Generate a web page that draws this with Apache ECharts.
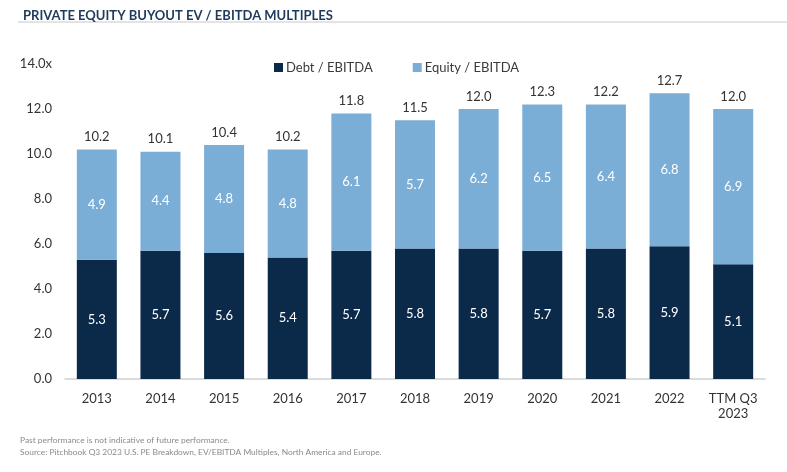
<!DOCTYPE html>
<html>
<head>
<meta charset="utf-8">
<script src="https://cdn.jsdelivr.net/npm/echarts@6/dist/echarts.min.js"></script>
<style>
  html, body { margin: 0; padding: 0; background: #fff; }
  #chart { width: 787px; height: 472px; }
</style>
</head>
<body>
<div id="chart"></div>
<script>
var years = ['2013', '2014', '2015', '2016', '2017', '2018', '2019', '2020', '2021', '2022', 'TTM Q3\n2023'];
var debt = [5.3, 5.7, 5.6, 5.4, 5.7, 5.8, 5.8, 5.7, 5.8, 5.9, 5.1];
var equity = [4.9, 4.4, 4.8, 4.8, 6.1, 5.7, 6.2, 6.5, 6.4, 6.8, 6.9];
var totals = [10.2, 10.1, 10.4, 10.2, 11.8, 11.5, 12.0, 12.3, 12.2, 12.7, 12.0];

var font = 'Lato';
var navy = '#0b2a4a';
var sky = '#7aaed6';

var option = {
  animation: false,
  textStyle: { fontFamily: font },
  title: {
    text: 'PRIVATE EQUITY BUYOUT EV / EBITDA MULTIPLES',
    left: 18,
    top: 4,
    textStyle: { fontSize: 13, fontWeight: 'bold', color: '#1e3a5c', fontFamily: font }
  },
  graphic: [
    { type: 'line', shape: { x1: 18, y1: 22, x2: 787, y2: 22 }, style: { stroke: '#c8c8c8', lineWidth: 1 } },
    { type: 'text', left: 20, top: 436, style: { text: 'Past performance is not indicative of future performance.', fontSize: 8.4, fill: '#8a8a8a', fontFamily: font } },
    { type: 'text', left: 20, top: 448, style: { text: 'Source: Pitchbook Q3 2023 U.S. PE Breakdown, EV/EBITDA Multiples, North America and Europe.', fontSize: 8.4, fill: '#8a8a8a', fontFamily: font } }
  ],
  legend: {
    top: 56,
    left: 269,
    itemWidth: 9,
    itemHeight: 9,
    itemGap: 40,
    icon: 'rect',
    textStyle: { fontSize: 13, color: '#3a3a3a', fontFamily: font, padding: [0, 0, 0, -2] },
    data: ['Debt / EBITDA', 'Equity / EBITDA']
  },
  grid: { left: 65, right: 22, top: 64, bottom: 93 },
  xAxis: {
    type: 'category',
    data: years,
    axisLine: { lineStyle: { color: '#cfcfcf', width: 1.5 } },
    axisTick: { show: false },
    axisLabel: { fontSize: 13, color: '#333', margin: 12, lineHeight: 15 }
  },
  yAxis: {
    type: 'value',
    min: 0,
    max: 14,
    interval: 2,
    splitLine: { show: false },
    axisLine: { show: false },
    axisTick: { show: false },
    axisLabel: {
      fontSize: 13,
      color: '#333',
      margin: 13,
      formatter: function (v) { return v === 14 ? '14.0x' : v.toFixed(1); }
    }
  },
  series: [
    {
      name: 'Debt / EBITDA',
      type: 'bar',
      stack: 'ev',
      barWidth: 40,
      data: debt,
      itemStyle: { color: navy },
      label: {
        show: true,
        position: 'inside',
        color: '#fff',
        fontSize: 13,
        formatter: function (p) { return p.value.toFixed(1); }
      }
    },
    {
      name: 'Equity / EBITDA',
      type: 'bar',
      stack: 'ev',
      barWidth: 40,
      data: equity,
      itemStyle: { color: sky },
      label: {
        show: true,
        position: 'inside',
        color: '#fff',
        fontSize: 13,
        formatter: function (p) { return p.value.toFixed(1); }
      }
    },
    {
      name: 'total',
      type: 'bar',
      stack: 'ev',
      barWidth: 40,
      data: totals.map(function () { return 0; }),
      itemStyle: { color: 'transparent' },
      label: {
        show: true,
        position: 'top',
        distance: 6,
        color: '#333',
        fontSize: 13,
        formatter: function (p) { return totals[p.dataIndex].toFixed(1); }
      },
      tooltip: { show: false }
    }
  ]
};

var chart = echarts.init(document.getElementById('chart'));
chart.setOption(option);
</script>
</body>
</html>
